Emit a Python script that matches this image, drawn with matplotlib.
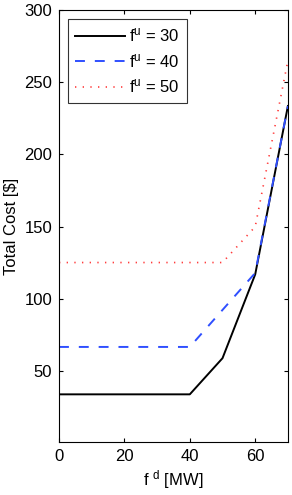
import matplotlib
matplotlib.use("Agg")
import matplotlib.pyplot as plt

plt.rcParams['font.family'] = ['Liberation Sans', 'DejaVu Sans']
plt.rcParams['mathtext.default'] = 'regular'

x_30 = [0, 40, 50, 60, 70]
y_30 = [34, 34, 59, 117, 233.5]
x_40 = [0, 40, 60, 70]
y_40 = [66.8, 66.8, 118, 233.5]
x_50 = [0, 50, 60, 70]
y_50 = [125.2, 125.2, 150, 265]
labels = ['f$^{u}$ = 30', 'f$^{u}$ = 40', 'f$^{u}$ = 50']
xticks = [0, 20, 40, 60]
yticks = [50, 100, 150, 200, 250, 300]

fig = plt.figure(figsize=(2.92, 4.95), dpi=100)
ax = fig.add_axes([0.202, 0.107, 0.784, 0.873])
ax.plot(x_30, y_30, color='black', lw=1.4, label=labels[0])
ax.plot(x_40, y_40, color='#2f4fff', lw=1.4, dashes=(5.1, 5.1), label=labels[1])
ax.plot(x_50, y_50, color='#ff3b3b', lw=1.2, dashes=(0.8, 3.8), label=labels[2])
ax.set_xlim(0, 70)
ax.set_ylim(1, 300)
ax.set_xticks(xticks)
ax.set_yticks(yticks)
ax.tick_params(direction='in', top=True, right=True, labelsize=12, length=3, width=0.8, pad=5)
for s in ax.spines.values():
    s.set_linewidth(0.8)
ax.set_xlabel('f $^{d}$ [MW]', fontsize=12, labelpad=3)
ax.set_ylabel('Total Cost [$]', fontsize=12, labelpad=4)
leg = ax.legend(loc='upper left', fontsize=12, frameon=True, fancybox=False,
                edgecolor='black', handlelength=3.0, borderpad=0.45, labelspacing=0.45,
                handletextpad=0.2, borderaxespad=0, bbox_to_anchor=(0.039, 0.979))
leg.get_frame().set_linewidth(0.8)
fig.savefig('out.png', dpi=100)
